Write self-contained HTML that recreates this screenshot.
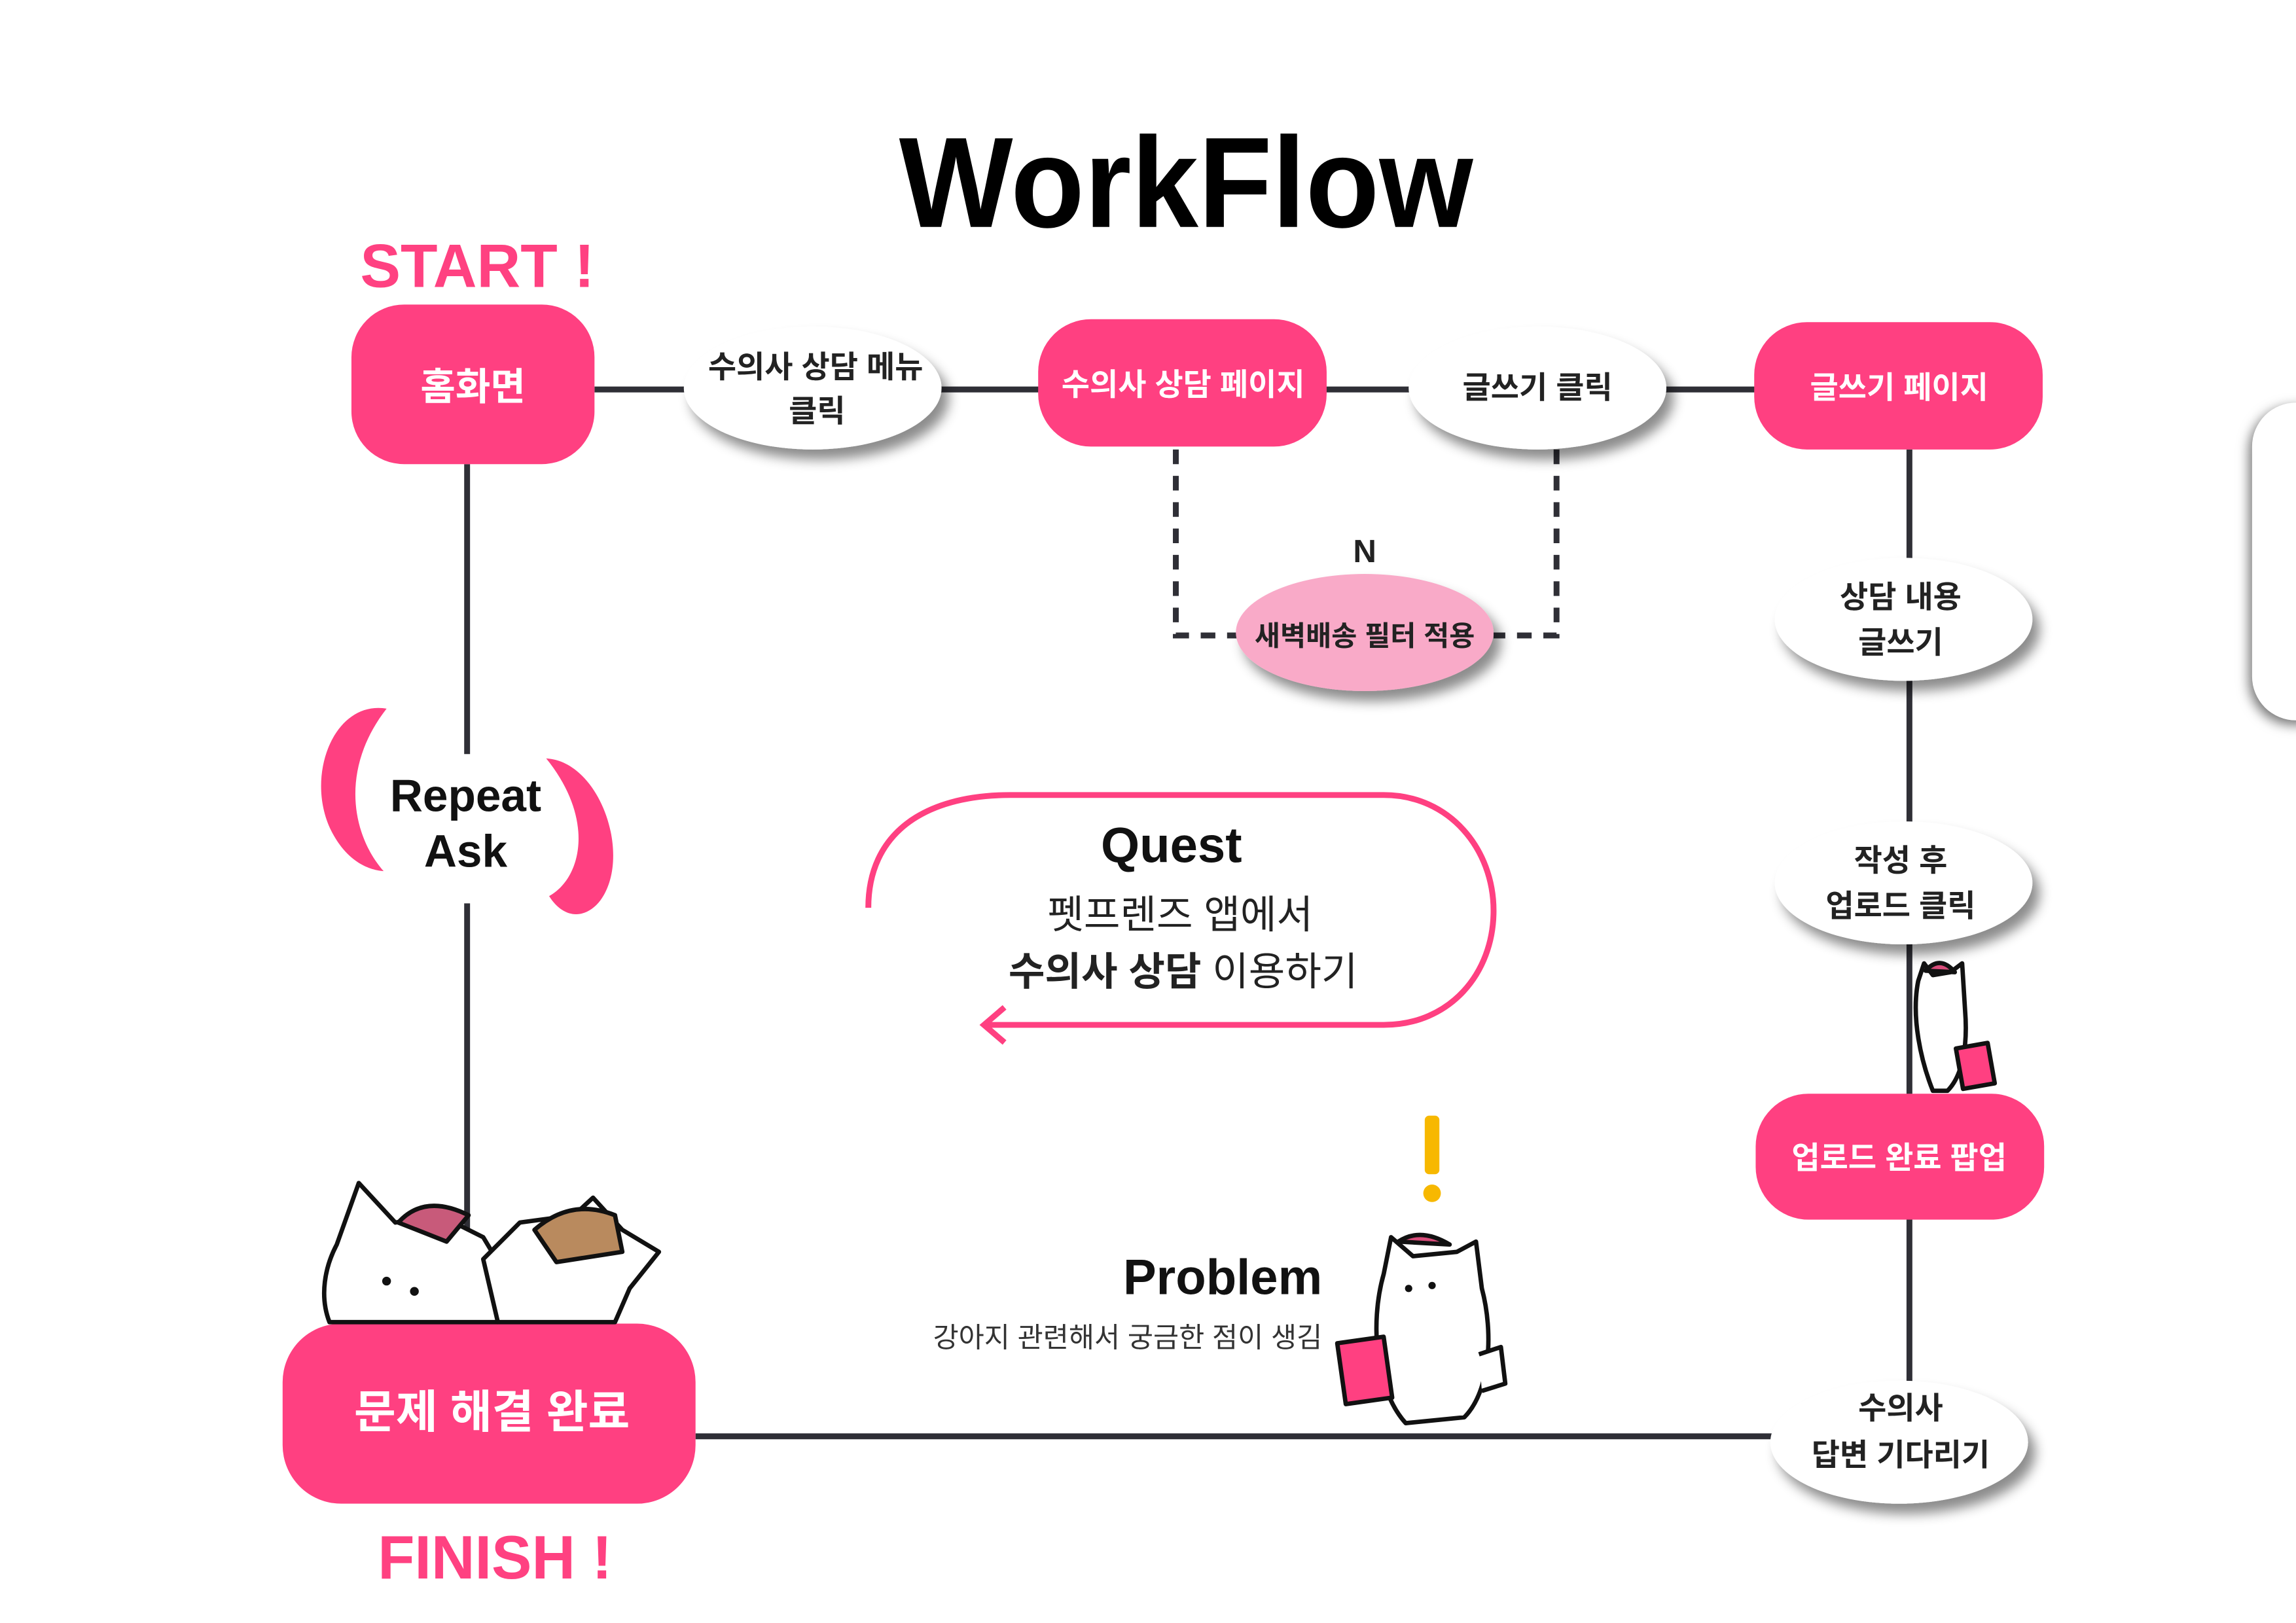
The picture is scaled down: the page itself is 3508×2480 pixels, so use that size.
<!DOCTYPE html>
<html><head><meta charset="utf-8"><style>
html,body{margin:0;padding:0;background:#fff;}
svg{display:block}
text{font-family:"Liberation Sans","Noto Sans CJK KR",sans-serif;}
</style></head><body>
<svg width="3508" height="2480" viewBox="0 0 1568 1108.5" xmlns="http://www.w3.org/2000/svg">
<defs>
<filter id="sh" x="-30%" y="-30%" width="160%" height="180%">
<feDropShadow dx="5" dy="7" stdDeviation="4" flood-color="#000" flood-opacity="0.45"/>
</filter>
</defs>
<rect width="1568" height="1109" fill="#fff"/>
<text x="810" y="155" font-size="88" font-weight="bold" text-anchor="middle" fill="#000" textLength="392" lengthAdjust="spacingAndGlyphs">WorkFlow</text>
<text x="326" y="196" font-size="42" font-weight="bold" text-anchor="middle" fill="#ff4181" textLength="160" lengthAdjust="spacingAndGlyphs">START !</text>
<text x="338" y="1078" font-size="42" font-weight="bold" text-anchor="middle" fill="#ff4181" textLength="160" lengthAdjust="spacingAndGlyphs">FINISH !</text>

<g stroke="#2f2f36" stroke-width="4" fill="none">
<line x1="406" y1="266" x2="1200" y2="266"/>
<line x1="319" y1="317" x2="319" y2="515"/>
<line x1="319" y1="617" x2="319" y2="905"/>
<line x1="1304" y1="307" x2="1304" y2="945"/>
<line x1="475" y1="981" x2="1215" y2="981"/>
<path d="M803 307 V434 H845 M1063 307 V434 H1020" stroke-dasharray="10 8"/>
</g>

<g fill="#ff4081">
<rect x="240" y="208" width="166" height="109" rx="36"/>
<rect x="709" y="218" width="197" height="87" rx="36"/>
<rect x="1198" y="220" width="197" height="87" rx="36"/>
<rect x="1199" y="747" width="197" height="86" rx="36"/>
<rect x="193" y="904" width="282" height="123" rx="40"/>
</g>
<g fill="#fff" font-weight="bold" text-anchor="middle">
<text x="323" y="273" font-size="26">홈화면</text>
<text x="808" y="270" font-size="21">수의사 상담 페이지</text>
<text x="1297" y="272" font-size="21">글쓰기 페이지</text>
<text x="1297" y="798" font-size="21">업로드 완료 팝업</text>
<text x="336" y="975" font-size="31">문제 해결 완료</text>
</g>

<g filter="url(#sh)">
<ellipse cx="555" cy="265" rx="88" ry="42" fill="#fff"/>
<ellipse cx="1050" cy="265" rx="88" ry="42" fill="#fff"/>
<ellipse cx="932" cy="432" rx="88" ry="40" fill="#f9aac8"/>
<ellipse cx="1300" cy="423" rx="88" ry="42" fill="#fff"/>
<ellipse cx="1300" cy="603" rx="88" ry="42" fill="#fff"/>
<ellipse cx="1297" cy="985" rx="88" ry="42" fill="#fff"/>
</g>
<rect x="1538" y="275" width="80" height="217" rx="30" fill="#fff" style="filter:drop-shadow(-2px 3px 4px rgba(0,0,0,0.55))"/>
<g fill="#222" font-weight="bold" text-anchor="middle" font-size="21">
<text x="557" y="258">수의사 상담 메뉴</text>
<text x="558" y="288">클릭</text>
<text x="1050" y="272">글쓰기 클릭</text>
<text x="932" y="441" font-size="19">새벽배송 필터 적용</text>
<text x="1298" y="415">상담 내용</text>
<text x="1298" y="446">글쓰기</text>
<text x="1298" y="595">작성 후</text>
<text x="1298" y="626">업로드 클릭</text>
<text x="1298" y="969">수의사</text>
<text x="1298" y="1001">답변 기다리기</text>
<text x="932" y="384" font-size="22">N</text>
</g>

<path d="M264 484 C228 478 208 530 226 567 C236 587 250 594 262 595 C240 570 232 525 264 484 Z" fill="#ff4081"/>
<path d="M373 518 C410 520 432 585 410 615 C400 628 385 628 375 612 C397 600 407 560 373 518 Z" fill="#ff4081"/>
<text x="318" y="554" font-size="31" font-weight="bold" text-anchor="middle" fill="#111">Repeat</text>
<text x="318" y="592" font-size="31" font-weight="bold" text-anchor="middle" fill="#111">Ask</text>

<path d="M593 620 C593 570 630 543 690 543 H945 C990 543 1020 580 1020 622 C1020 665 990 700 945 700 H672" fill="none" stroke="#ff4081" stroke-width="4"/>
<path d="M686 688 L672 700 L686 712" fill="none" stroke="#ff4081" stroke-width="4"/>
<text x="800" y="589" font-size="34" font-weight="bold" text-anchor="middle" fill="#111">Quest</text>
<text x="806" y="634" font-size="27" text-anchor="middle" fill="#222">펫프렌즈 앱에서</text>
<text x="808" y="673" font-size="27" text-anchor="middle" fill="#222"><tspan font-weight="bold">수의사 상담</tspan> 이용하기</text>

<text x="903" y="884" font-size="34" font-weight="bold" text-anchor="end" fill="#111">Problem</text>
<text x="903" y="920" font-size="19" text-anchor="end" fill="#333">강아지 관련해서 궁금한 점이 생김</text>
<rect x="973" y="762" width="10" height="40" rx="3" fill="#f7b800"/>
<circle cx="978" cy="815" r="6" fill="#f7b800"/>

<g stroke="#111" stroke-width="3" fill="#fff" stroke-linejoin="round">
<path d="M945 870 L950 845 L965 858 L995 855 L1008 848 L1012 880 C1020 910 1018 950 1000 968 L960 972 C940 950 935 905 945 870 Z"/>
<path d="M955 848 Q970 838 990 850 Z" fill="#d94c7a"/>
<rect x="916" y="915" width="32" height="42" fill="#ff4081" transform="rotate(-8 932 936)"/>
<path d="M1010 925 L1025 920 L1028 945 L1012 950" />
<path d="M1310 670 L1314 658 L1320 666 L1332 664 L1340 658 L1342 690 C1344 715 1340 735 1330 745 L1320 745 C1312 725 1305 695 1310 670 Z"/>
<path d="M1315 663 Q1325 652 1335 664 Z" fill="#d94c7a"/>
<rect x="1338" y="714" width="22" height="28" fill="#ff4081" transform="rotate(-10 1349 728)"/>
<path d="M230 850 L245 808 L270 835 L300 830 L330 845 L345 870 L340 903 L225 903 C218 885 222 865 230 850 Z"/>
<path d="M272 835 Q290 815 320 830 L305 848 Z" fill="#c85a7a"/>
<path d="M330 860 L355 835 L392 830 L405 818 L425 840 L450 855 L430 880 L420 903 L340 903 Z"/>
<path d="M365 840 Q390 818 420 830 L425 855 L380 862 Z" fill="#b98a5e"/>
</g>
<g fill="#111">
<circle cx="264" cy="875" r="3"/><circle cx="283" cy="882" r="3"/>
<circle cx="962" cy="880" r="2.5"/><circle cx="978" cy="878" r="2.5"/>
</g>
</svg>
</body></html>
